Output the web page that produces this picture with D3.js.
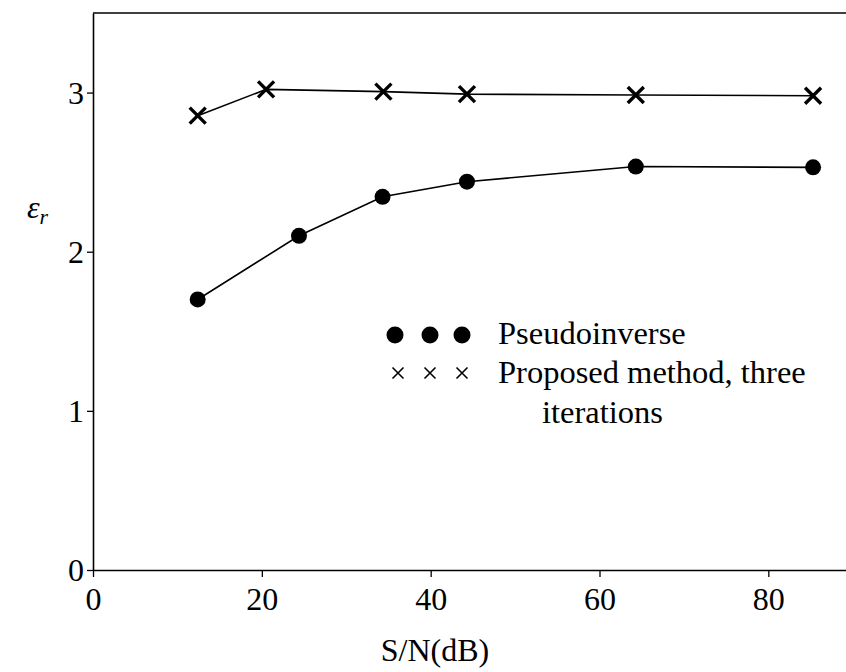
<!DOCTYPE html>
<html>
<head>
<meta charset="utf-8">
<script src="https://cdn.jsdelivr.net/npm/d3@7"></script>
<style>
  html, body { margin: 0; padding: 0; background: #fff; }
  svg { display: block; }
  text { font-family: "Liberation Serif", "Times New Roman", serif; fill: #000; }
</style>
</head>
<body>
<svg id="chart" width="846" height="672"></svg>
<script>
// Signal-to-noise ratio (dB) at each measurement
const snrPseudo = [12.4, 24.4, 34.3, 44.3, 64.3, 85.3];
const errPseudo = [1.70, 2.10, 2.345, 2.44, 2.535, 2.53];

const snrProposed = [12.4, 20.5, 34.4, 44.3, 64.3, 85.3];
const errProposed = [2.855, 3.02, 3.006, 2.99, 2.985, 2.98];

const xTicks = [0, 20, 40, 60, 80];
const yTicks = [0, 1, 2, 3];

const legendLabels = ["Pseudoinverse", "Proposed method, three", "iterations"];

const svg = d3.select("#chart");

const x = d3.scaleLinear().domain([0, 89.2]).range([93, 846]);
const y = d3.scaleLinear().domain([0, 3.5]).range([570, 13]);

// top frame line
svg.append("line")
  .attr("x1", x(0)).attr("x2", x(89.2))
  .attr("y1", y(3.5)).attr("y2", y(3.5))
  .attr("stroke", "#000").attr("stroke-width", 1.5);

// axes
const xAxis = svg.append("g")
  .attr("transform", `translate(0,${y(0)})`)
  .call(d3.axisBottom(x).tickValues(xTicks).tickFormat(d3.format("d"))
        .tickSize(7).tickSizeOuter(0).tickPadding(10));
const yAxis = svg.append("g")
  .attr("transform", `translate(${x(0)},0)`)
  .call(d3.axisLeft(y).tickValues(yTicks).tickFormat(d3.format("d"))
        .tickSize(6).tickSizeOuter(0).tickPadding(3));

[xAxis, yAxis].forEach(g => {
  g.select(".domain").attr("stroke", "#000").attr("stroke-width", 1.6);
  g.selectAll(".tick line").attr("stroke", "#000").attr("stroke-width", 1.3);
  g.selectAll(".tick text")
    .attr("font-family", "Liberation Serif")
    .attr("font-size", 32)
    .attr("fill", "#000");
});
yAxis.selectAll(".tick text").attr("dy", "0.34em");

// axis titles
svg.append("text")
  .attr("x", 435).attr("y", 661)
  .attr("text-anchor", "middle")
  .attr("font-size", 32)
  .text("S/N(dB)");

const yTitle = svg.append("text")
  .attr("x", 27).attr("y", 218)
  .attr("font-size", 32)
  .attr("font-style", "italic");
yTitle.append("tspan").text("ε");
yTitle.append("tspan").attr("font-size", 22).attr("dy", 6).text("r");

// series lines
const line = d3.line().x(d => x(d[0])).y(d => y(d[1]));

const pseudo = snrPseudo.map((s, i) => [s, errPseudo[i]]);
const proposed = snrProposed.map((s, i) => [s, errProposed[i]]);

svg.append("path").datum(pseudo)
  .attr("d", line).attr("fill", "none")
  .attr("stroke", "#000").attr("stroke-width", 1.6);
svg.append("path").datum(proposed)
  .attr("d", line).attr("fill", "none")
  .attr("stroke", "#000").attr("stroke-width", 1.6);

// filled circles
svg.selectAll("circle.pseudo").data(pseudo).join("circle")
  .attr("class", "pseudo")
  .attr("cx", d => x(d[0])).attr("cy", d => y(d[1]))
  .attr("r", 8).attr("fill", "#000");

// bold crosses
const crossSize = 8;
svg.selectAll("path.cross").data(proposed).join("path")
  .attr("class", "cross")
  .attr("transform", d => `translate(${x(d[0])},${y(d[1])})`)
  .attr("d", `M${-crossSize},${-crossSize}L${crossSize},${crossSize}M${-crossSize},${crossSize}L${crossSize},${-crossSize}`)
  .attr("stroke", "#000").attr("stroke-width", 3.4).attr("fill", "none");

// legend
const legend = svg.append("g");
[395, 430, 462].forEach(cx => {
  legend.append("circle").attr("cx", cx).attr("cy", 335).attr("r", 8.5).attr("fill", "#000");
});
[398, 430, 462].forEach(cx => {
  const s = 5.5;
  legend.append("path")
    .attr("transform", `translate(${cx},373)`)
    .attr("d", `M${-s},${-s}L${s},${s}M${-s},${s}L${s},${-s}`)
    .attr("stroke", "#000").attr("stroke-width", 1.6).attr("fill", "none");
});
legend.append("text").attr("x", 498).attr("y", 344).attr("font-size", 32.5).text(legendLabels[0]);
legend.append("text").attr("x", 498).attr("y", 383).attr("font-size", 32.5).text(legendLabels[1]);
legend.append("text").attr("x", 542).attr("y", 423).attr("font-size", 32.5).text(legendLabels[2]);
</script>
</body>
</html>
